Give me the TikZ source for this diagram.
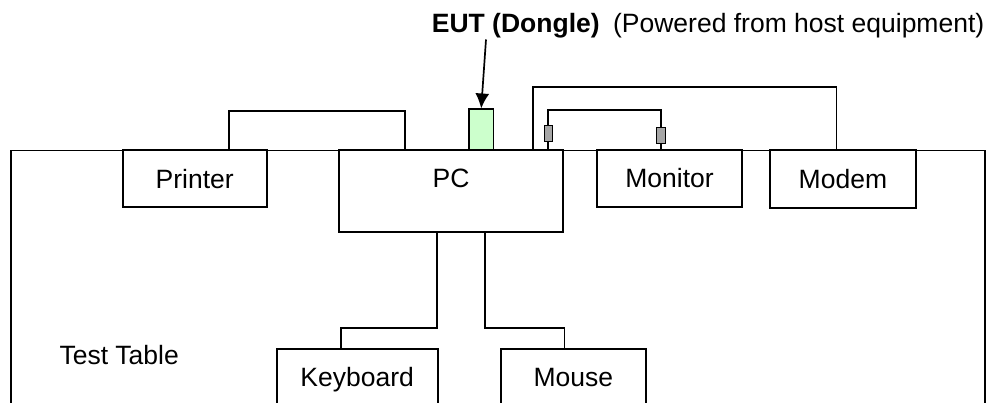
\documentclass[tikz,border=0pt]{standalone}
\usepackage{fontspec}
\setmainfont{Liberation Sans}
\usetikzlibrary{positioning,arrows.meta}
\definecolor{donglegreen}{HTML}{CCFFCC}
\begin{document}
\begin{tikzpicture}[x=1pt, y=-1pt,
	unit/.style={draw=black, line width=1.7pt, fill=white, inner sep=0pt, text height=19pt, text depth=0pt, font=\fontsize{26.5}{30}\selectfont},
	cable/.style={draw=black, line width=1.7pt},
	plug/.style={draw=black, line width=0.9pt, fill=black!35, inner sep=0pt, minimum width=8.4pt, minimum height=16pt},
	caption/.style={inner sep=0pt, font=\fontsize{26.5}{30}\selectfont}]
	\useasboundingbox (0,0) rectangle (991,403);
	\draw[draw=black, line width=1.7pt] (11.00,410.00) |- (985.00,150.50) -- (985.00,410.00);
	\node[unit, minimum width=144pt, minimum height=57pt] (printer) at (194.70,178.70) {Printer};
	\node[unit, minimum width=224pt, minimum height=81.7pt] (pc) at (451.00,190.85) {};
	\node[caption, anchor=base] (pctext) at (451.00,187.30) {PC};
	\node[unit, minimum width=145.6pt, minimum height=57pt] (monitor) at (669.50,178.30) {Monitor};
	\node[unit, minimum width=145.7pt, minimum height=57.7pt] (modem) at (842.90,178.90) {Modem};
	\node[unit, minimum width=161pt, minimum height=57pt] (keyboard) at (357.20,377.50) {Keyboard};
	\node[unit, minimum width=145.3pt, minimum height=57pt] (mouse) at (573.35,377.50) {Mouse};
	\node[draw=black, line width=1.7pt, fill=donglegreen, inner sep=0pt, minimum width=24.3pt, minimum height=40.7pt] (dongle) at (481.20,129.70) {};
	\node[caption, anchor=base west] (table) at (59.30,364.00) {Test Table};
	\node[caption, anchor=base west, font=\bfseries\fontsize{26.5}{30}\selectfont] (eut) at (431.70,33.00) {EUT (Dongle)};
	\node[caption, base right=13pt of eut] (power) {(Powered from host equipment)};
	\coordinate (eutpt) at (486.00,39.50);
	\draw[draw=black, line width=1.7pt, -{Latex[length=15pt,width=14pt]}] (eutpt) -- (dongle.north);
	\draw[cable] ([xshift=34pt]printer.north) -- ++(0,-38.3) -| ([xshift=-46pt]pc.north);
	\draw[cable] ([xshift=81.7pt]pc.north) -- ++(0,-62.3) -| ([xshift=-6.3pt]modem.north);
	\coordinate (pcmon) at ([xshift=97.3pt]pc.north);
	\coordinate (monin) at ([xshift=-8.5pt]monitor.north);
	\draw[cable] (pcmon) -- ++(0,-39) -| (monin);
	\node[plug, above=7.3pt of pcmon] (plugpc) {};
	\node[plug, above=5pt of monin] (plugmon) {};
	\draw[cable] ([xshift=-14.3pt]pc.south) -- ++(0,95.6) -| ([xshift=-16.5pt]keyboard.north);
	\draw[cable] ([xshift=34pt]pc.south) -- ++(0,95.6) -| ([xshift=-9pt]mouse.north);
\end{tikzpicture}
\end{document}
